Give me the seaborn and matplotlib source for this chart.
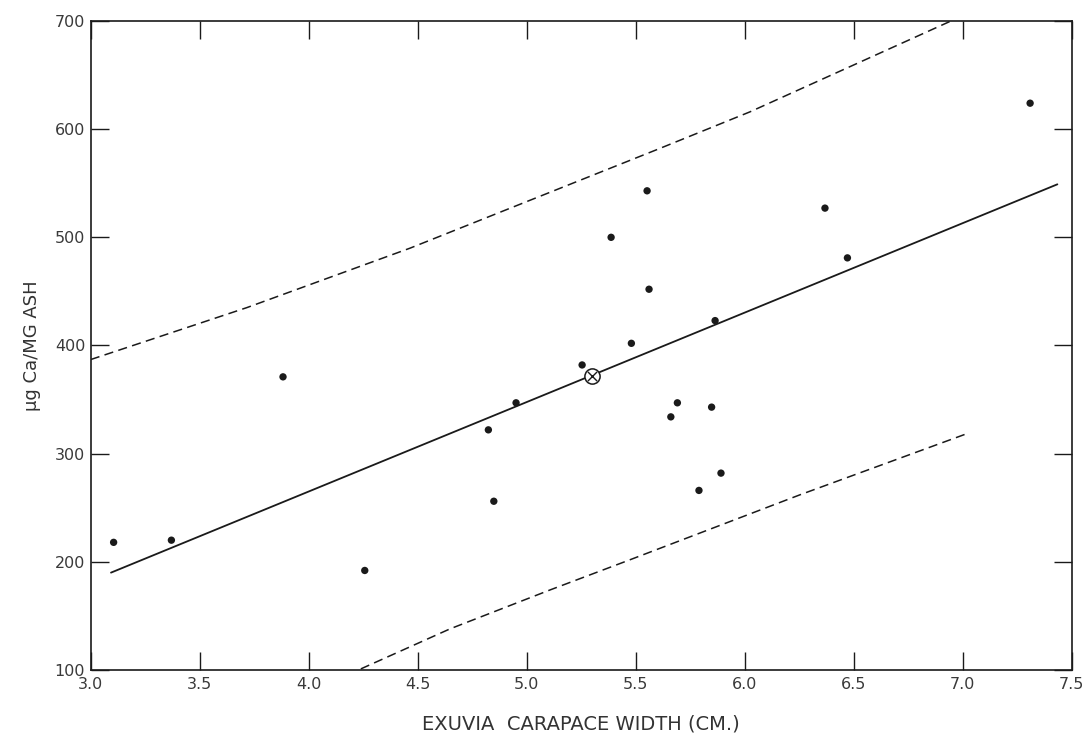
import matplotlib
matplotlib.use("Agg")
import matplotlib.pyplot as plt
import pandas as pd
import seaborn as sns

# exuvia carapace width (cm) vs calcium content (ug Ca / mg ash)
width = [3.105, 3.370, 3.882, 4.257, 4.824, 4.849, 4.951, 5.254, 5.387, 5.480, 5.552,
         5.561, 5.661, 5.691, 5.790, 5.848, 5.864, 5.891, 6.368, 6.471, 7.309]
calcium = [218, 220, 371, 192, 322, 256, 347, 382, 500, 402, 543,
           452, 334, 347, 266, 343, 423, 282, 527, 481, 624]

mean_x = [5.298]
mean_y = [372]

fit_x = [3.093, 7.434]
fit_y = [190, 549]

upper_x = [3.0, 3.716, 4.465, 5.596, 6.024, 6.946]
upper_y = [387, 435, 490, 581, 616, 700]

lower_x = [4.239, 4.648, 5.107, 5.475, 6.254, 7.026]
lower_y = [101, 138, 174, 202, 262, 319]

x_ticks = [3.0, 3.5, 4.0, 4.5, 5.0, 5.5, 6.0, 6.5, 7.0, 7.5]
y_ticks = [100, 200, 300, 400, 500, 600, 700]


def main() -> None:
    sns.set_theme(style="ticks")
    plt.rcParams["font.family"] = ["DejaVu Sans"]

    pts = pd.DataFrame({"width": width, "calcium": calcium})
    fit = pd.DataFrame({"x": fit_x, "y": fit_y})
    upper = pd.DataFrame({"x": upper_x, "y": upper_y})
    lower = pd.DataFrame({"x": lower_x, "y": lower_y})

    fig = plt.figure(figsize=(10.84, 7.39), dpi=100)
    ax = fig.add_axes([0.0837, 0.0934, 0.9050, 0.8782])

    ink = "#1a1a1a"
    sns.lineplot(data=fit, x="x", y="y", color=ink, lw=1.3, sort=False, ax=ax)
    sns.lineplot(data=upper, x="x", y="y", color=ink, lw=1.1, sort=False, ax=ax,
                 dashes=False, linestyle=(0, (6, 3.5)))
    sns.lineplot(data=lower, x="x", y="y", color=ink, lw=1.1, sort=False, ax=ax,
                 dashes=False, linestyle=(0, (6, 3.5)))
    sns.scatterplot(data=pts, x="width", y="calcium", color=ink, s=28,
                    edgecolor="none", ax=ax, zorder=3)
    # mean point: open circle with a cross
    ax.scatter(mean_x, mean_y, s=120, facecolor="white", edgecolor=ink, lw=1.1, zorder=4)
    ax.scatter(mean_x, mean_y, s=45, marker="x", color=ink, lw=1.0, zorder=5)

    ax.set_xlim(3.0, 7.5)
    ax.set_ylim(100, 700)
    ax.set_xticks(x_ticks)
    ax.set_xticklabels([f"{t:.1f}" for t in x_ticks])
    ax.set_yticks(y_ticks)
    ax.tick_params(direction="in", length=13, width=1.0, color=ink,
                   top=True, right=True, labelsize=11.5, labelcolor="#3a3a3a")
    ax.tick_params(axis="x", pad=5)
    ax.tick_params(axis="y", pad=4)
    for sp in ax.spines.values():
        sp.set_visible(True)
        sp.set_color(ink)
        sp.set_linewidth(1.2)

    ax.set_xlabel("EXUVIA  CARAPACE WIDTH (CM.)", fontsize=14, color="#333333", labelpad=16)
    ax.set_ylabel("μg Ca/MG ASH", fontsize=13, color="#333333", labelpad=10)

    fig.savefig("out.png", dpi=100)
    plt.close(fig)


if __name__ == "__main__":
    main()
